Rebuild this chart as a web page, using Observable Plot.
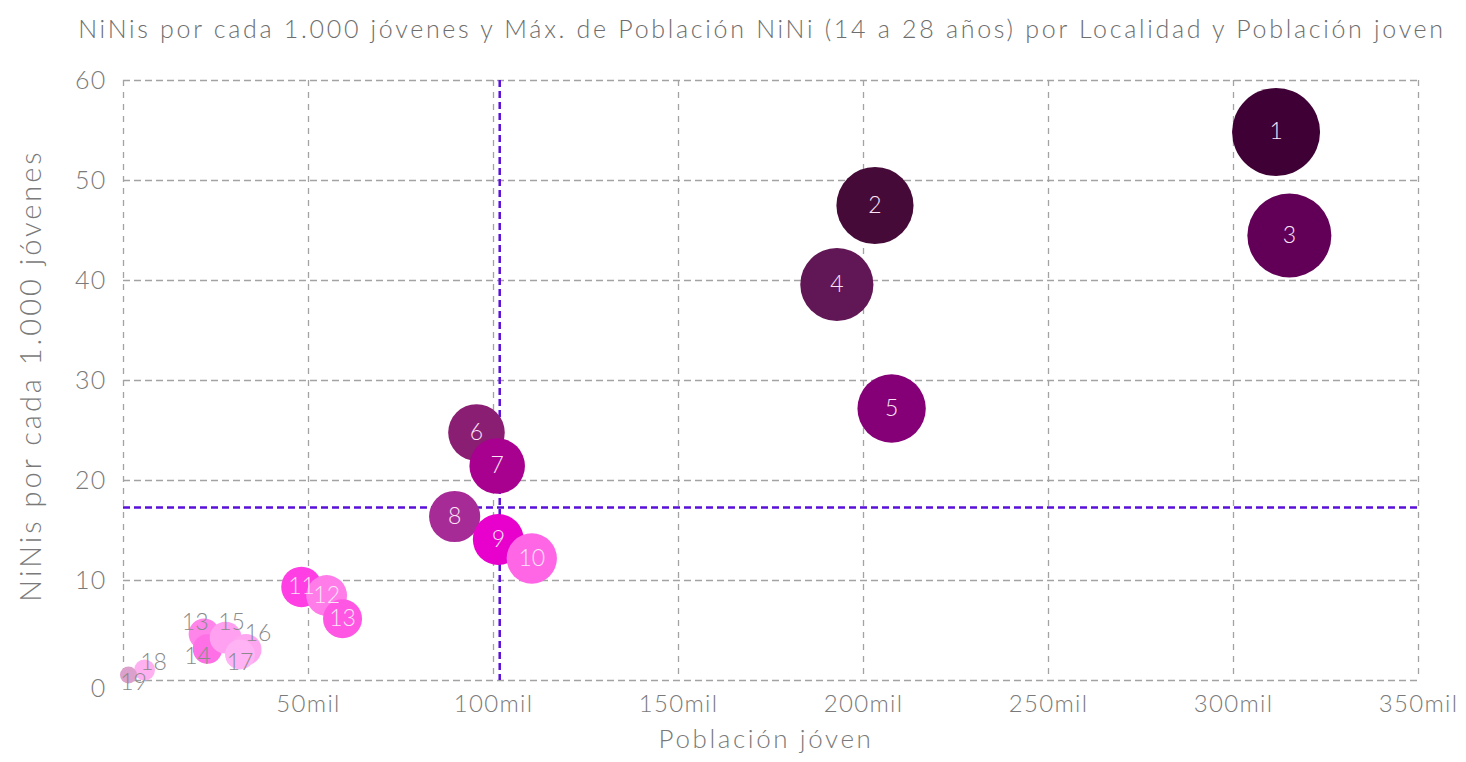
<!DOCTYPE html>
<html>
<head>
<meta charset="utf-8">
<script src="https://cdn.jsdelivr.net/npm/d3@7"></script>
<script src="https://cdn.jsdelivr.net/npm/@observablehq/plot@0.6"></script>
<style>
  html, body { margin: 0; padding: 0; background: #ffffff; }
  body { font-family: Lato, "Open Sans", sans-serif; width: 1466px; }
  #title { position: relative; left: 29px; height: 50px; line-height: 56px; text-align: center; font-size: 25px;
           font-weight: 300; color: #6e6e6e; letter-spacing: 2.7px; white-space: nowrap; }
</style>
</head>
<body>
<div id="title">NiNis por cada 1.000 jóvenes y Máx. de Población NiNi (14 a 28 años) por Localidad y Población joven</div>
<div id="chart"></div>
<script>
// ---- Data ----
const ranks = ["1","2","3","4","5","6","7","8","9","10","11","12","13","13","14","15","16","17","18","19"];
const poblacionJoven = [311500, 203100, 315100, 192800, 207600, 95400, 101000, 89500, 101300, 110350,
                        48100, 54900, 59200, 21800, 22700, 27600, 33100, 31500, 5700, 1350];
const ninisPorMil = [54.85, 47.5, 44.5, 39.6, 27.2, 24.8, 21.45, 16.4, 14.1, 12.2,
                     9.36, 8.5, 6.18, 4.65, 3.15, 4.28, 3.1, 2.6, 1.05, 0.55];
const poblacionNini = [17090, 9650, 14020, 7640, 5650, 2370, 2170, 1470, 1430, 1350,
                       450, 470, 370, 101, 72, 118, 103, 82, 6, 0.74];
const xTicks = [50000, 100000, 150000, 200000, 250000, 300000, 350000];
const yTicks = [0, 10, 20, 30, 40, 50, 60];

// ---- Styles ----
const colores = ["#3f0035", "#450a38", "#620058", "#611755", "#850077", "#8a1e72", "#a8008f", "#a62b96",
                 "#e800cc", "#ff66e6", "#ff3ee4", "#ff7ce9", "#ff57e3", "#ff85ea", "#ff6fe5", "#ffa0f0",
                 "#ffa6f0", "#ffb3f4", "#ffb0f0", "#dca0cc"];
const etiquetasFuera = [
  {i: 13, dx: -9, dy: -11}, {i: 14, dx: -10, dy: 8}, {i: 15, dx: 6, dy: -15},
  {i: 16, dx: 12, dy: -16}, {i: 17, dx: 0, dy: 8}, {i: 18, dx: 9, dy: -7}, {i: 19, dx: 5, dy: 8}
];

const data = ranks.map((r, i) => ({rank: r, idx: i, x: poblacionJoven[i], y: ninisPorMil[i], size: poblacionNini[i]}));
const dentro = data.filter(d => !etiquetasFuera.some(e => e.i === d.idx));
const meanX = d3.mean(poblacionJoven);
const meanY = d3.mean(ninisPorMil);

const font = "Lato, 'Open Sans', sans-serif";
const gridColor = "#a3a3a3";
const meanColor = "#5a10d8";
const axisColor = "#7a7a7a";
const xTitle = "Población jóven";
const yTitle = "NiNis por cada 1.000 jóvenes";

const chart = Plot.plot({
  width: 1466,
  height: 712,
  marginTop: 30,
  marginBottom: 82,
  marginLeft: 123,
  marginRight: 48,
  style: {fontFamily: font, background: "#ffffff", overflow: "visible"},
  x: {domain: [0, 350000], label: null},
  y: {domain: [0, 60], label: null},
  r: {type: "pow", exponent: 0.27, domain: [0, 17100], range: [6, 44]},
  color: {type: "ordinal", domain: d3.range(ranks.length), range: colores},
  marks: [
    Plot.ruleY(yTicks, {y: d => d, stroke: gridColor, strokeWidth: 1.3, strokeDasharray: "7,4"}),
    Plot.ruleX([0, ...xTicks], {x: d => d, stroke: gridColor, strokeWidth: 1.3, strokeDasharray: "6,6"}),
    Plot.axisX(xTicks, {tickSize: 0, tickPadding: 14, tickFormat: d => (d / 1000) + "mil",
                        fontSize: 24, fill: axisColor, fontWeight: 300, label: null}),
    Plot.axisY(yTicks.filter(t => t > 0), {tickSize: 0, tickPadding: 17, fontSize: 25, fill: axisColor, fontWeight: 300, label: null}),
    Plot.axisY(yTicks.filter(t => t === 0), {tickSize: 0, tickPadding: 17, dy: 8, fontSize: 25, fill: axisColor, fontWeight: 300, label: null}),
    Plot.text([xTitle], {frameAnchor: "bottom", dx: -5, dy: 67, fontSize: 26, fill: axisColor, fontWeight: 300}),
    Plot.text([yTitle], {frameAnchor: "left", textAnchor: "middle", dx: -92, dy: -5, rotate: -90, fontSize: 29,
                         fill: axisColor, fontWeight: 300}),
    Plot.ruleX([meanX], {x: d => d, stroke: meanColor, strokeWidth: 2.5, strokeDasharray: "7,4"}),
    Plot.ruleY([meanY], {y: d => d, stroke: meanColor, strokeWidth: 2.5, strokeDasharray: "7,4"}),
    Plot.dot(data, {x: "x", y: "y", r: "size", fill: "idx", stroke: "none", sort: null}),
    Plot.text(dentro, {x: "x", y: "y", text: "rank", fill: "#fbe4f7", fontSize: 23, fontWeight: 300}),
    ...etiquetasFuera.map(e => Plot.text([data[e.i]], {x: "x", y: "y", text: "rank", dx: e.dx, dy: e.dy,
                                                        fill: "#8a8a8a", fontSize: 23, fontWeight: 300}))
  ]
});
document.getElementById("chart").appendChild(chart);

// letter spacing to approximate the wider original typeface
const sel = d3.select(chart).selectAll("text");
sel.filter(function() { return this.textContent === yTitle; }).style("letter-spacing", "3px");
sel.filter(function() { return this.textContent === xTitle; }).style("letter-spacing", "2.6px");
sel.filter(function() { return /^(\d+mil|\d0|0)$/.test(this.textContent) && this.closest("g[aria-label^='y-axis'], g[aria-label^='x-axis']"); })
   .style("letter-spacing", "1.3px");
</script>
</body>
</html>
